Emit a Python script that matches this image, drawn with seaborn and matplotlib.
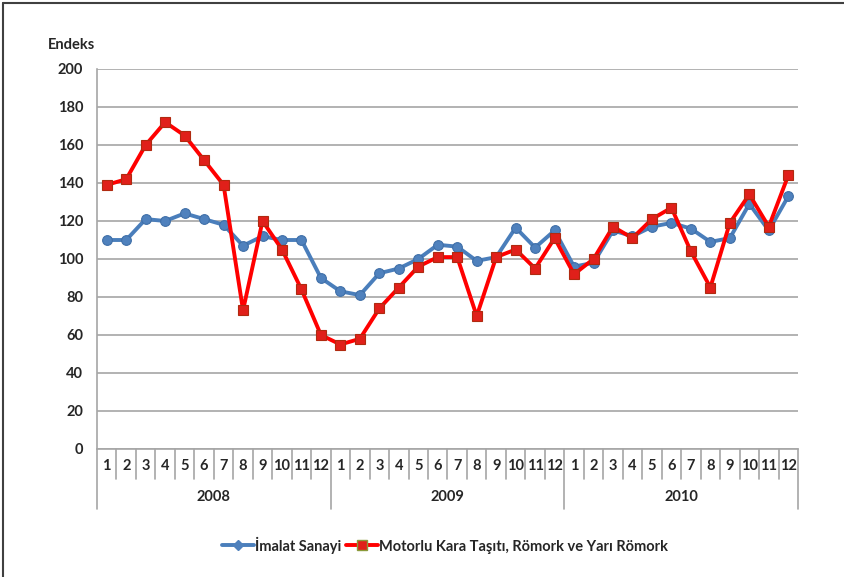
import matplotlib
matplotlib.use("Agg")
import matplotlib.pyplot as plt
import matplotlib.transforms as mtransforms
from matplotlib.lines import Line2D
import seaborn as sns
import pandas as pd
import numpy as np

months = [str(m) for m in range(1, 13)] * 3
years = ["2008", "2009", "2010"]
imalat = [110, 110, 121, 120, 124, 121, 118, 107, 112, 110, 110, 90,
          83, 81, 92.5, 95, 100, 107.5, 106.5, 99, 101, 116.5, 106, 115,
          96, 98, 115, 112, 117, 119, 116, 109, 111, 129, 115, 133]
motorlu = [139, 142, 160, 172, 165, 152, 139, 73, 120, 105, 84, 60,
           55, 58, 74, 85, 96, 101, 101, 70, 101, 105, 95, 111,
           92, 100, 117, 111, 121, 127, 104, 85, 119, 134, 117, 144]
yticks = list(range(0, 201, 20))
name1 = "İmalat Sanayi"
name2 = "Motorlu Kara Taşıtı, Römork ve Yarı Römork"

sns.set_style("white")
plt.rcParams["font.family"] = ["Lato", "DejaVu Sans"]
plt.rcParams["font.weight"] = "bold"

df = pd.DataFrame({"idx": np.arange(len(imalat)), name1: imalat, name2: motorlu})

fig = plt.figure(figsize=(8.45, 5.77), dpi=100)
ax = fig.add_axes([97/845, 1-449/577, (798-97)/845, (449-69)/577])

blue = "#4A7EBB"
red = "#FF0000"
sns.lineplot(data=df, x="idx", y=name1, ax=ax, color=blue, lw=2.8,
             marker="o", markersize=7, markerfacecolor="#4F81BD",
             markeredgecolor="#3F6FA8", markeredgewidth=0.8, zorder=3)
sns.lineplot(data=df, x="idx", y=name2, ax=ax, color=red, lw=2.8,
             marker="s", markersize=7, markerfacecolor="#E0201A",
             markeredgecolor="#B02A10", markeredgewidth=0.8, zorder=4)

ax.set_xlim(-0.5, len(imalat) - 0.5)
ax.set_ylim(0, 200)
ax.set_yticks(yticks)
ax.set_yticklabels([str(v) for v in yticks], fontsize=10.5, fontweight="bold")
ax.yaxis.grid(True, color="#A6A6A6", lw=1.2)
ax.set_axisbelow(True)
ax.set_xlabel("")
ax.set_ylabel("")
ax.set_xticks([])
for s in ["top", "right"]:
    ax.spines[s].set_visible(False)
for s in ["left", "bottom"]:
    ax.spines[s].set_color("#A6A6A6")
    ax.spines[s].set_linewidth(1.2)
ax.tick_params(axis="y", length=6, color="#A6A6A6", width=1.2, pad=4)

trans = mtransforms.blended_transform_factory(ax.transData, ax.transAxes)
h = (449 - 69)
month_drop = -(479 - 449) / h
year_drop = -(509 - 449) / h
for i in range(len(imalat) + 1):
    x = i - 0.5
    low = year_drop if i % 12 == 0 else month_drop
    ax.plot([x, x], [0, low], transform=trans, color="#A6A6A6", lw=1.2, clip_on=False)
for i, m in enumerate(months):
    ax.text(i, -(466 - 449) / h, m, transform=trans, ha="center", va="center",
            fontsize=10.5, fontweight="bold")
for j, yv in enumerate(years):
    ax.text(j * 12 + 5.5, -(497 - 449) / h, yv, transform=trans, ha="center",
            va="center", fontsize=10.5, fontweight="bold")

fig.text(48/845, 1-45/577, "Endeks", ha="left", va="center", fontsize=10.5, fontweight="bold")

handles = [Line2D([], [], color=blue, lw=2.8, marker="D", markersize=5,
                  markerfacecolor="#4F81BD", markeredgecolor="#4F81BD"),
           Line2D([], [], color=red, lw=2.8, marker="s", markersize=7,
                  markerfacecolor="#E0201A", markeredgecolor="#8A9A3A")]
fig.legend(handles, [name1, name2], loc="center", bbox_to_anchor=(445/845, 1-545/577),
           ncol=2, frameon=False, fontsize=10.5, handlelength=2.2, handletextpad=0.1,
           columnspacing=0.3, prop={"weight": "bold", "size": 10.5})

# figure border (left and top)
fig.add_artist(Line2D([3/845, 3/845], [0, 1-3/577], transform=fig.transFigure, color="#404040", lw=1.5))
fig.add_artist(Line2D([3/845, 1], [1-3/577, 1-3/577], transform=fig.transFigure, color="#404040", lw=1.5))

fig.savefig("out.png", dpi=100)
